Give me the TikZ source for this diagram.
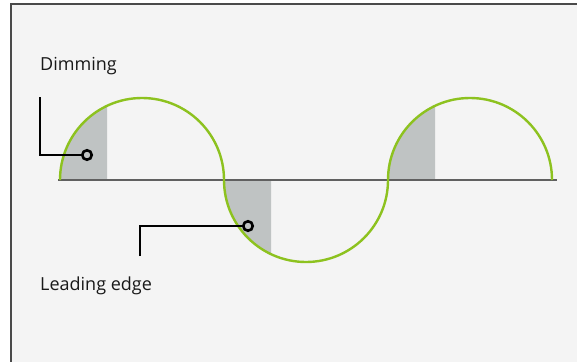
\documentclass[tikz,border=0pt]{standalone}
\usepackage{fontspec}
\setmainfont{Open Sans}
\usepackage{tikz}
\usetikzlibrary{calc,positioning}
\definecolor{waveGreen}{RGB}{141,194,31}
\definecolor{shadeGrey}{RGB}{191,195,195}
\definecolor{axisGrey}{RGB}{96,96,96}
\definecolor{frameGrey}{RGB}{74,74,74}
\definecolor{panelBg}{RGB}{244,244,244}

\begin{document}
\begin{tikzpicture}[x=1pt, y=-1pt,
  wave/.style={draw=waveGreen, line width=2.4pt},
  callout/.style={draw=black, line width=2.6pt},
  dot/.style={circle, draw=black, line width=2.6pt, minimum size=9.5pt, inner sep=0pt},
  label/.style={anchor=base west, inner sep=0pt, font=\fontsize{18}{22}\selectfont, text=black!90}]
\useasboundingbox (0,0) rectangle (577,361);
\clip (0,0) rectangle (577,361);
% panel
\fill[panelBg] (11,4) rectangle (590,370);
\draw[frameGrey, line width=2pt] (11,370) -- (11,4) -- (590,4);
% dimmed part of each half wave
\foreach \sx/\ea in {60/360, 224/0, 388/360} {
  \begin{scope}
    \clip (\sx,60) rectangle (\sx+47,300);
    \fill[shadeGrey] (\sx,180) arc[start angle=180, end angle=\ea, radius=82] -- cycle;
  \end{scope}
}
% axis
\draw[axisGrey, line width=2.7pt] (58,180) -- (557,180);
% wave
\draw[wave] (60,180) arc[start angle=180, end angle=360, radius=82]
  arc[start angle=180, end angle=0, radius=82]
  arc[start angle=180, end angle=360, radius=82];
% callouts
\node[label] (dimming) at (40,70.5) {Dimming};
\node[dot] (dimdot) at (87,155) {};
\coordinate (dimend) at (40,97);
\draw[callout] (dimend) |- (dimdot);

\node[label] (leading) at (40,290) {Leading edge};
\node[dot] (leaddot) at (248,226) {};
\coordinate (leadend) at (140,256);
\draw[callout] (leadend) |- (leaddot);
\end{tikzpicture}
\end{document}
